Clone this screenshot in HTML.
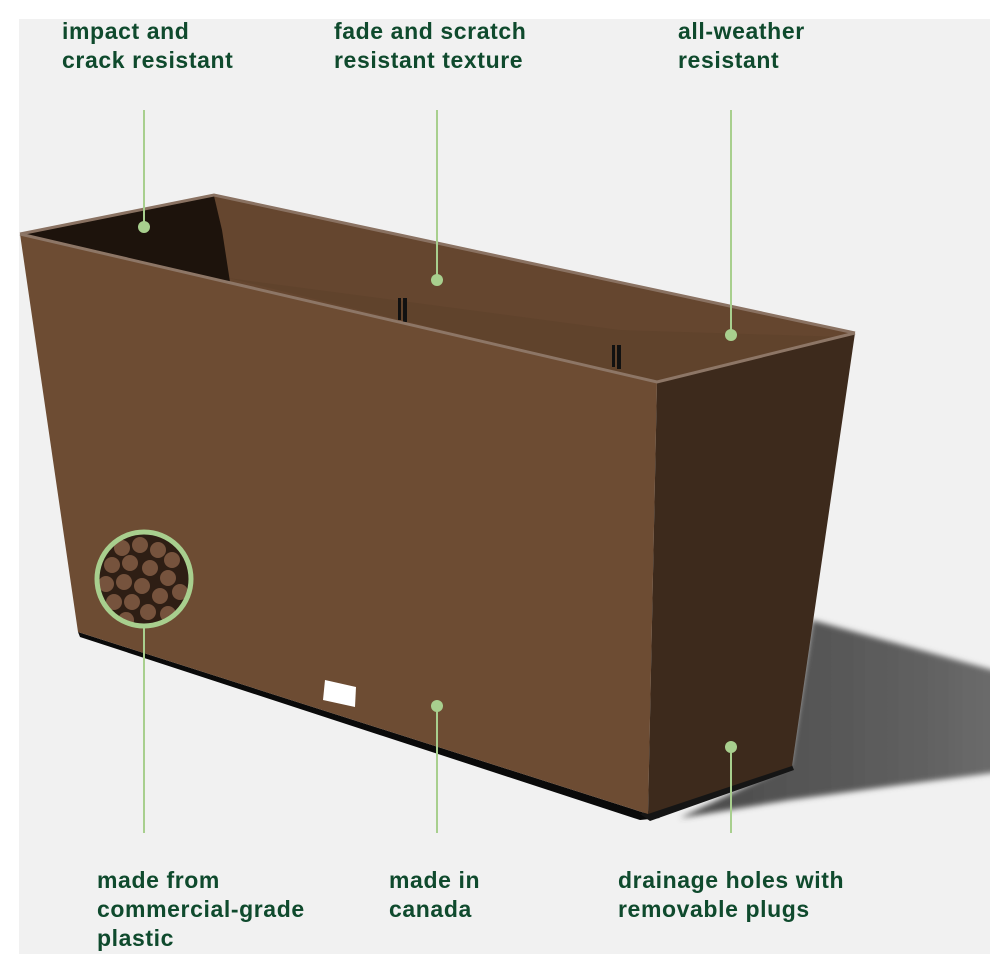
<!DOCTYPE html>
<html><head><meta charset="utf-8"><style>
body{margin:0;background:#fff;}
.wrap{position:relative;width:990px;height:974px;overflow:hidden;background:#fff;}
svg{position:absolute;left:0;top:0;}
.t{position:absolute;font-family:"Liberation Sans",sans-serif;font-weight:bold;font-size:23px;line-height:29px;color:#0f4a2d;letter-spacing:0.6px;}
</style></head><body><div class="wrap">
<svg width="990" height="974" viewBox="0 0 990 974">
<defs>
<linearGradient id="sh" x1="0" y1="0" x2="1" y2="0"><stop offset="0" stop-color="#4a4a4a"/><stop offset="0.7" stop-color="#5e5e5e"/><stop offset="1" stop-color="#6c6c6c"/></linearGradient>
<filter id="bl" x="-10%" y="-10%" width="120%" height="120%"><feGaussianBlur stdDeviation="3"/></filter>
<clipPath id="cc"><circle cx="144" cy="579" r="46"/></clipPath>
<clipPath id="pg"><rect x="19" y="19" width="971" height="935"/></clipPath>
</defs>
<rect x="19" y="19" width="971" height="935" fill="#f1f1f1"/>
<!-- shadow -->
<g clip-path="url(#pg)"><polygon points="812,620 1000,672 1000,772 900,785 790,800 680,818 790,765" fill="url(#sh)" filter="url(#bl)"/></g>
<!-- base black strip -->
<polygon points="78,632 648,814 660,818 640,820 80,637" fill="#0a0a0a"/>
<polygon points="640,814 792,765 794,770 650,821" fill="#151515"/>
<!-- back wall -->
<polygon points="214,195 855,333 657,382 20,234" fill="#65462f"/>
<polygon points="228,278 657,382 845,337 620,330" fill="#5e412c" opacity="0.6"/>
<!-- inner left dark -->
<polygon points="24,234 214,196 222,230 230,282" fill="#1d130c"/>
<polyline points="20,234 214,195 855,333" fill="none" stroke="#8a7262" stroke-width="3"/>
<!-- clips -->
<rect x="398" y="298" width="3" height="22" fill="#111"/><rect x="403" y="298" width="4" height="24" fill="#111"/>
<rect x="612" y="345" width="3" height="22" fill="#111"/><rect x="617" y="345" width="4" height="24" fill="#111"/>
<!-- front face -->
<polygon points="20,234 657,382 648,814 78,632" fill="#6d4c33"/>
<!-- right face -->
<polygon points="657,382 855,333 792,766 648,814" fill="#3d2a1c"/>
<polyline points="20,234 657,382 855,333" fill="none" stroke="#8d7666" stroke-width="3"/>
<!-- label -->
<polygon points="325,680 356,687 355,707 323,700" fill="#fff"/>
<!-- connectors -->
<g stroke="#a8cf8e" stroke-width="2">
<line x1="144" y1="110" x2="144" y2="227"/><line x1="437" y1="110" x2="437" y2="280"/><line x1="731" y1="110" x2="731" y2="335"/>
<line x1="144" y1="627" x2="144" y2="833"/><line x1="437" y1="706" x2="437" y2="833"/><line x1="731" y1="747" x2="731" y2="833"/>
</g>
<g fill="#a8cf8e"><circle cx="144" cy="227" r="6"/><circle cx="437" cy="280" r="6"/><circle cx="731" cy="335" r="6"/><circle cx="437" cy="706" r="6"/><circle cx="731" cy="747" r="6"/></g>
<!-- texture circle -->
<circle cx="144" cy="579" r="47" fill="#2e1e14"/>
<g clip-path="url(#cc)" fill="#76533d">
<circle cx="122" cy="548" r="8"/><circle cx="140" cy="545" r="8"/><circle cx="158" cy="550" r="8"/><circle cx="172" cy="560" r="8"/>
<circle cx="112" cy="565" r="8"/><circle cx="130" cy="563" r="8"/><circle cx="150" cy="568" r="8"/><circle cx="168" cy="578" r="8"/>
<circle cx="106" cy="584" r="8"/><circle cx="124" cy="582" r="8"/><circle cx="142" cy="586" r="8"/><circle cx="160" cy="596" r="8"/><circle cx="180" cy="592" r="8"/>
<circle cx="114" cy="602" r="8"/><circle cx="132" cy="602" r="8"/><circle cx="148" cy="612" r="8"/><circle cx="168" cy="614" r="8"/><circle cx="126" cy="620" r="8"/>
</g>
<circle cx="144" cy="579" r="47" fill="none" stroke="#a8cf8e" stroke-width="5"/>
</svg>
<div class="t" style="left:62px;top:17px;">impact and<br>crack resistant</div>
<div class="t" style="left:334px;top:17px;">fade and scratch<br>resistant texture</div>
<div class="t" style="left:678px;top:17px;">all-weather<br>resistant</div>
<div class="t" style="left:97px;top:866px;">made from<br>commercial-grade<br>plastic</div>
<div class="t" style="left:389px;top:866px;">made in<br>canada</div>
<div class="t" style="left:618px;top:866px;">drainage holes with<br>removable plugs</div>
</div></body></html>
